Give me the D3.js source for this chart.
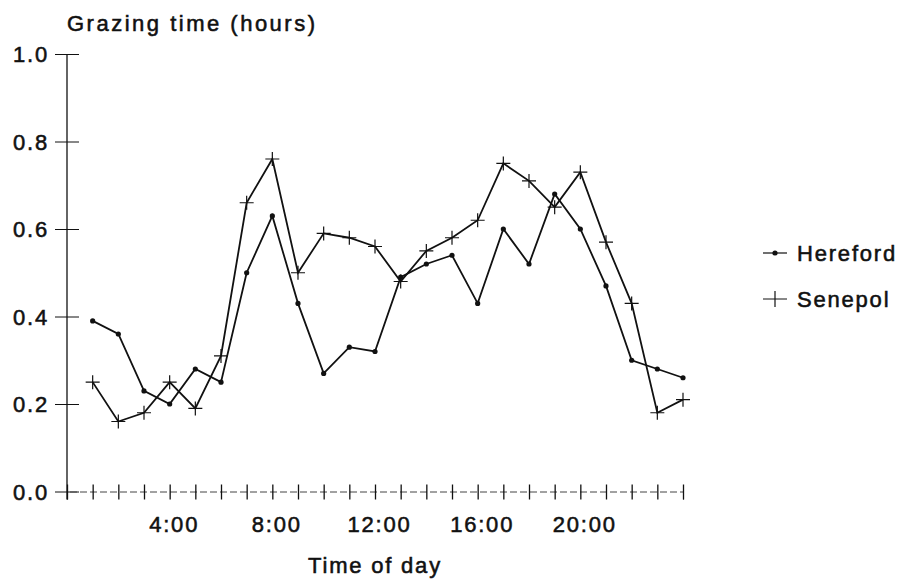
<!DOCTYPE html>
<html>
<head>
<meta charset="utf-8">
<script src="https://cdn.jsdelivr.net/npm/d3@7"></script>
<style>
    body { margin: 0; background: #fff; }
    svg text { font-family: "Liberation Sans", Arial, Helvetica, sans-serif; fill: #111; stroke: #111; stroke-width: 0.55px; letter-spacing: 1.8px; }
</style>
</head>
<body>
<div id="chart"></div>
<script>
const hours = d3.range(1, 25);
const hereford = [0.39, 0.36, 0.23, 0.20, 0.28, 0.25, 0.50, 0.63, 0.43, 0.27, 0.33, 0.32,
                  0.49, 0.52, 0.54, 0.43, 0.60, 0.52, 0.68, 0.60, 0.47, 0.30, 0.28, 0.26];
const senepol = [0.25, 0.16, 0.18, 0.25, 0.19, 0.31, 0.66, 0.76, 0.50, 0.59, 0.58, 0.56,
                 0.48, 0.55, 0.58, 0.62, 0.75, 0.71, 0.65, 0.73, 0.57, 0.43, 0.18, 0.21];
const yTicks = [0, 0.2, 0.4, 0.6, 0.8, 1.0];
const xTickLabels = { 4: "4:00", 8: "8:00", 12: "12:00", 16: "16:00", 20: "20:00" };
const seriesNames = ["Hereford", "Senepol"];

const width = 906;
const height = 588;
const margin = { top: 54, right: 223, bottom: 96.5, left: 67 };
const innerW = width - margin.left - margin.right;
const innerH = height - margin.top - margin.bottom;

const svg = d3.select("#chart")
    .append("svg")
    .attr("width", width)
    .attr("height", height);

const g = svg.append("g")
    .attr("transform", `translate(${margin.left},${margin.top})`);

const x = d3.scaleLinear().domain([0, 24]).range([0, innerW]);
const y = d3.scaleLinear().domain([0, 1]).range([innerH, 0]);

// y axis, ticks cross the line
const yAxis = g.append("g")
    .call(d3.axisLeft(y).tickValues(yTicks).tickFormat(d3.format(".1f")).tickSize(12).tickPadding(6));
yAxis.select(".domain").remove();
yAxis.selectAll(".tick line").attr("x1", 12).attr("stroke", "#111");
yAxis.selectAll(".tick text").style("font-size", "22px").attr("dy", "0.36em");
g.append("line")
    .attr("x1", 0).attr("x2", 0)
    .attr("y1", 0).attr("y2", innerH + 8)
    .attr("stroke", "#111").attr("stroke-width", 1.3);

// x axis with dashed baseline
const xAxis = g.append("g")
    .attr("transform", `translate(0,${innerH})`)
    .call(d3.axisBottom(x).tickValues(d3.range(0, 25)).tickSize(8).tickPadding(17)
        .tickFormat(d => xTickLabels[d] || ""));
xAxis.select(".domain")
    .attr("stroke", "#444")
    .attr("stroke-width", 1)
    .attr("stroke-dasharray", "7,3");
xAxis.selectAll(".tick line").attr("y1", -7).attr("stroke", "#111").attr("stroke-width", 1.3);
xAxis.selectAll(".tick text").style("font-size", "22px").attr("dx", "4");

// titles
svg.append("text")
    .attr("x", margin.left)
    .attr("y", 31)
    .style("font-size", "22px")
    .style("letter-spacing", "2.5px")
    .text("Grazing time (hours)");

svg.append("text")
    .attr("x", margin.left + x(12))
    .attr("y", 573)
    .attr("text-anchor", "middle")
    .style("font-size", "22px")
    .text("Time of day");

const line = d3.line()
    .x((d, i) => x(hours[i]))
    .y(d => y(d));

g.append("path")
    .datum(hereford)
    .attr("d", line)
    .attr("fill", "none")
    .attr("stroke", "#111")
    .attr("stroke-width", 1.8);

g.append("path")
    .datum(senepol)
    .attr("d", line)
    .attr("fill", "none")
    .attr("stroke", "#111")
    .attr("stroke-width", 1.8);

g.selectAll(".dot")
    .data(hereford)
    .enter().append("circle")
    .attr("class", "dot")
    .attr("cx", (d, i) => x(hours[i]))
    .attr("cy", d => y(d))
    .attr("r", 2.6)
    .attr("fill", "#111");

g.selectAll(".plus")
    .data(senepol)
    .enter().append("path")
    .attr("class", "plus")
    .attr("transform", (d, i) => `translate(${x(hours[i])},${y(d)})`)
    .attr("d", "M-7,0H7M0,-7V7")
    .attr("stroke", "#111")
    .attr("stroke-width", 1.2)
    .attr("fill", "none");

// legend
const legend = svg.append("g").attr("transform", "translate(763,0)");
const legendRows = legend.selectAll(".row")
    .data(seriesNames)
    .enter().append("g")
    .attr("class", "row")
    .attr("transform", (d, i) => `translate(0,${253 + i * 46})`);

legendRows.append("line")
    .attr("x1", 0).attr("x2", 24)
    .attr("stroke", "#111")
    .attr("stroke-width", (d, i) => i === 0 ? 1.2 : 1);
legendRows.filter((d, i) => i === 0).append("circle")
    .attr("cx", 12).attr("r", 2.6).attr("fill", "#111");
legendRows.filter((d, i) => i === 1).append("line")
    .attr("x1", 12).attr("x2", 12).attr("y1", -8).attr("y2", 8)
    .attr("stroke", "#111").attr("stroke-width", 1.2);
legendRows.append("text")
    .attr("x", 34)
    .attr("dy", "0.36em")
    .style("font-size", "22px")
    .text(d => d);
</script>
</body>
</html>
